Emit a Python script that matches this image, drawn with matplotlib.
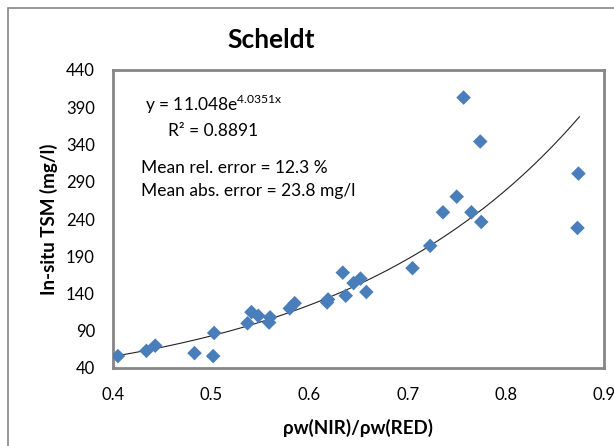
import numpy as np
import matplotlib.pyplot as plt
from matplotlib.patches import Rectangle

plt.rcParams['font.family'] = ['Lato', 'DejaVu Sans']

# ratio rho_w(NIR)/rho_w(RED) vs in-situ TSM (mg/l)
ratio = [0.405, 0.434, 0.443, 0.483, 0.502, 0.503, 0.537, 0.541, 0.548, 0.559,
         0.560, 0.580, 0.585, 0.618, 0.619, 0.634, 0.637, 0.645, 0.652, 0.658,
         0.705, 0.723, 0.736, 0.750, 0.757, 0.765, 0.774, 0.775, 0.873, 0.874]
tsm = [56, 63, 70, 60, 56, 87, 100, 115, 110, 101,
       108, 120, 127, 128, 132, 168, 137, 154, 160, 142,
       174, 204, 249, 270, 403, 249, 344, 236, 228, 301]

# exponential fit y = a*exp(b*x)
fit_a = 11.048
fit_b = 4.0351
fit_range = (0.40, 0.875)

fig = plt.figure(figsize=(6.14, 4.46), dpi=100)
ax = fig.add_axes([113/614, 1 - 368/446, (604 - 113)/614, (368 - 70)/446])

ax.scatter(ratio, tsm, marker='D', s=55, color='#4a7ebb', edgecolors='none', zorder=3)

xf = np.linspace(fit_range[0], fit_range[1], 200)
ax.plot(xf, fit_a * np.exp(fit_b * xf), color='#222222', lw=0.8, zorder=2)

ax.set_xlim(0.4, 0.9)
ax.set_ylim(40, 440)
ax.set_xticks([0.4, 0.5, 0.6, 0.7, 0.8, 0.9])
ax.set_xticklabels(['0.4', '0.5', '0.6', '0.7', '0.8', '0.9'])
ax.set_yticks(range(40, 441, 50))
ax.tick_params(axis='x', length=0, labelsize=12, pad=14)
ax.tick_params(axis='y', length=0, labelsize=12, pad=13)
for s in ax.spines.values():
    s.set_color('#868686')
    s.set_linewidth(2)

ax.set_xlabel('ρw(NIR)/ρw(RED)', fontsize=13.5, fontweight='bold')
ax.xaxis.set_label_coords(0.5, -0.172)
ax.set_ylabel('In-situ TSM (mg/l)', fontsize=13.5, fontweight='bold', va='center')
ax.yaxis.set_label_coords(-0.130, 0.5)
fig.text(271/614, 1 - 40/446, 'Scheldt', ha='center', va='center',
         fontsize=19, fontweight='bold')

ax.text(0.065, 0.885, r'y = 11.048e$^{\mathregular{4.0351x}}$', transform=ax.transAxes,
        fontsize=12.5, va='center')
ax.text(0.113, 0.795, 'R² = 0.8891', transform=ax.transAxes, fontsize=12.5, va='center')
ax.text(0.057, 0.672, 'Mean rel. error = 12.3 %', transform=ax.transAxes,
        fontsize=12.5, va='center')
ax.text(0.057, 0.595, 'Mean abs. error = 23.8 mg/l', transform=ax.transAxes,
        fontsize=12.5, va='center')

fig.patches.append(Rectangle((8/614, -0.1), 1.2, 1 - 8/446 + 0.1, transform=fig.transFigure,
                             fill=False, edgecolor='#868686', lw=1.2))

fig.savefig('out.png', dpi=100)
